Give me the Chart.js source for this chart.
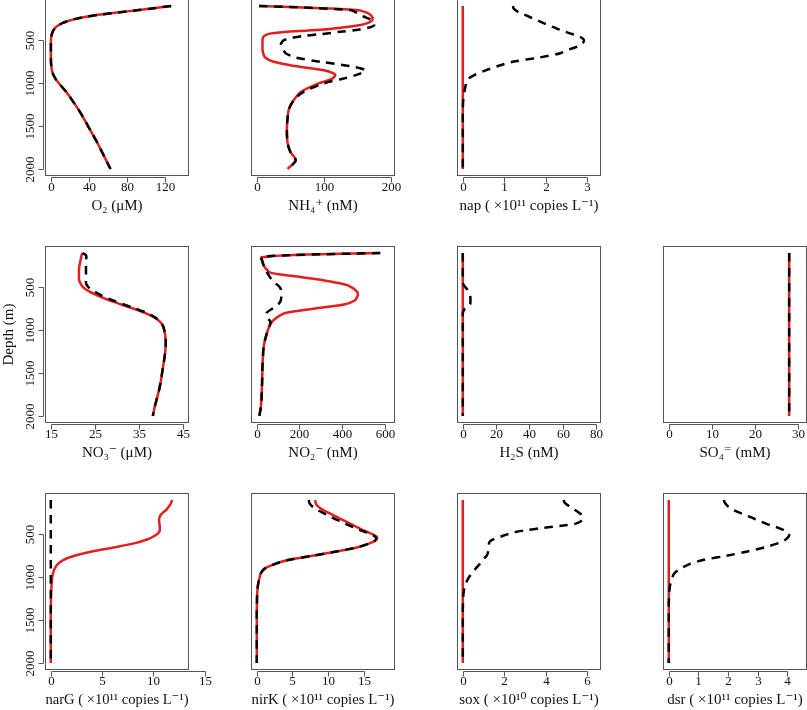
<!DOCTYPE html>
<html>
<head>
<meta charset="utf-8">
<script src="https://cdn.jsdelivr.net/npm/chart.js@4.4.1/dist/chart.umd.min.js"></script>
<style>
  html, body { margin: 0; padding: 0; background: #fff; overflow: hidden; }
  #wrap { position: relative; width: 807px; height: 710px; overflow: hidden; background: #fff; }
  #wrap canvas { position: absolute; }
</style>
</head>
<body>
<div id="wrap"></div>
<script>
// depth grid shared by every profile (m)
const depth = [100,125,150,175,200,225,250,275,300,325,350,375,400,425,450,475,500,525,550,575,600,
  650,700,750,800,850,900,950,1000,1100,1200,1300,1400,1500,1600,1700,1800,1900,2000];

const depthTicks = [500, 1000, 1500, 2000];

// profiles, one value per depth
const o2 = [126,108,90,70,52,37,26,18,12,8,5,3.2,2,1.2,0.7,0.4,0.2,0.1,0.1,0.1,0.1,
  0.1,0.1,0.2,0.5,1.2,2.6,5,8.5,16,22.5,28.5,34,39,44,49,53.5,58,62.5];

const nh4Solid = [3.5,96,152,163,169,172,173,171,165,153,128,100,45,18,11,9,8.5,8.5,8.5,8.5,8.5,
  9.5,12.5,25,57,100,117,112,93,66,55,48,46,45,45,46,50,58,46];
const nh4Dashed = [3.5,90,141,148,153,160,168,173,175,175,168,153,125,98,68,50,40,37,36,37,39,
  43,58,95,138,162,150,127,101,70,55,48,46,45,45,46,50,58,46];

const zeroProfile = [0,0,0,0,0,0,0,0,0,0,0,0,0,0,0,0,0,0,0,0,0,
  0,0,0,0,0,0,0,0,0,0,0,0,0,0,0,0,0,0];

const napDashed = [1.21,1.22,1.27,1.36,1.48,1.6,1.72,1.84,1.95,2.07,2.2,2.33,2.47,2.62,2.77,2.88,2.92,2.9,2.84,2.75,2.6,
  2.35,1.85,1.2,0.85,0.55,0.3,0.13,0.08,0.04,0.01,0,0,0,0,0,0,0,0];

const no3Solid = [22.2,22.0,21.9,21.8,21.7,21.6,21.5,21.45,21.4,21.4,21.4,21.4,21.4,21.5,21.7,22.0,22.4,23.0,23.8,24.8,25.8,
  28.2,31,33.9,36.5,38.5,39.8,40.5,40.8,41.1,41.1,40.9,40.6,40.3,40.0,39.6,39.1,38.6,38.2];
const no3Dashed = [22.2,23.0,23.1,23.0,23.0,23.0,23.0,23.0,23.0,23.0,23.0,23.0,23.0,23.0,23.0,23.2,23.6,24.3,25.0,25.8,26.7,
  29.0,31.6,34.4,36.9,38.7,39.8,40.5,40.8,41.1,41.1,40.9,40.6,40.3,40.0,39.6,39.1,38.6,38.2];

const no2Solid = [580,150,22,24,27,30,34,40,50,60,110,190,265,330,385,425,445,460,470,475,473,
  462,410,265,135,95,72,60,52,40,32,29,27,26,25,23.5,22,19,12];
const no2Dashed = [580,150,20,23,26,29,33,38,43,48,54,60,67,75,85,98,108,113,115,115,115,
  113,100,72,45,48,64,60,52,40,32,29,27,26,25,23.5,22,19,12];

const h2sDashed = [0,0,0,0,0,0,0,0,0,0,0,0,0,0,0,0.6,1.6,2.8,3.6,4.2,4.5,
  4.6,4.3,1.2,0,0,0,0,0,0,0,0,0,0,0,0,0,0,0];

const so4 = [28,28,28,28,28,28,28,28,28,28,28,28,28,28,28,28,28,28,28,28,28,
  28,28,28,28,28,28,28,28,28,28,28,28,28,28,28,28,28,28];

const narGSolid = [11.8,11.75,11.65,11.5,11.35,11.15,10.9,10.7,10.6,10.55,10.55,10.58,10.6,10.62,10.62,10.55,10.35,10.0,9.6,9.0,8.3,
  6.3,4.0,2.3,1.2,0.65,0.38,0.22,0.14,0.07,0.03,0.01,0,0,0,0,0,0,0];

const nirKSolid = [8.2,8.25,8.35,8.6,9.0,9.5,10.1,10.7,11.3,11.9,12.5,13.1,13.7,14.3,14.9,15.6,16.3,16.8,16.9,16.6,16.0,
  14.2,11.2,7.8,4.4,2.4,1.1,0.6,0.4,0.15,0.05,0.02,0,0,0,0,0,0,0];
const nirKDashed = [7.3,7.35,7.5,7.8,8.2,8.7,9.3,9.9,10.5,11.1,11.8,12.4,13.1,13.8,14.5,15.3,16.0,16.6,16.8,16.6,16.0,
  14.2,11.2,7.8,4.4,2.4,1.1,0.6,0.4,0.15,0.05,0.02,0,0,0,0,0,0,0];

const soxDashed = [4.87,4.9,5.0,5.15,5.3,5.47,5.62,5.75,5.8,5.78,5.68,5.45,4.75,3.9,3.1,2.5,2.15,1.85,1.55,1.35,1.27,
  1.25,1.23,1.15,0.95,0.8,0.62,0.45,0.3,0.1,0.03,0.01,0,0,0,0,0,0,0];

const dsrDashed = [1.86,1.88,1.93,2.0,2.1,2.23,2.4,2.58,2.76,2.93,3.1,3.28,3.48,3.7,3.88,4.0,4.06,4.05,3.98,3.88,3.72,
  3.25,2.65,1.95,1.15,0.68,0.4,0.2,0.12,0.04,0.01,0,0,0,0,0,0,0,0];

// x tick labels per panel
const o2Ticks = [0, 40, 80, 120];
const nh4Ticks = [0, 100, 200];
const napTicks = [0, 1, 2, 3];
const no3Ticks = [15, 25, 35, 45];
const no2Ticks = [0, 200, 400, 600];
const h2sTicks = [0, 20, 40, 60, 80];
const so4Ticks = [0, 10, 20, 30];
const narGTicks = [0, 5, 10, 15];
const nirKTicks = [0, 5, 10, 15];
const soxTicks = [0, 2, 4, 6];
const dsrTicks = [0, 1, 2, 3, 4];

const copies11 = " ( \u00d710\u00b9\u00b9 copies L\u207b\u00b9)";

const panels = [
  { title: "O\u2082 (\u03bcM)", solid: o2, dashed: o2, xlim: [0, 138.6], ticks: o2Ticks, row: 0, col: 0 },
  { title: "NH\u2084\u207a (nM)", solid: nh4Solid, dashed: nh4Dashed, xlim: [0, 197.6], ticks: nh4Ticks, row: 0, col: 1 },
  { title: "nap" + copies11, solid: zeroProfile, dashed: napDashed, xlim: [0, 3.19], ticks: napTicks, row: 0, col: 2 },
  { title: "NO\u2083\u207b (\u03bcM)", solid: no3Solid, dashed: no3Dashed, xlim: [15, 45.1], ticks: no3Ticks, row: 1, col: 0, depthTitle: true },
  { title: "NO\u2082\u207b (nM)", solid: no2Solid, dashed: no2Dashed, xlim: [0, 622], ticks: no2Ticks, row: 1, col: 1 },
  { title: "H\u2082S (nM)", solid: zeroProfile, dashed: h2sDashed, xlim: [0, 79.6], ticks: h2sTicks, row: 1, col: 2 },
  { title: "SO\u2084\u207c (mM)", solid: so4, dashed: so4, xlim: [0, 30.8], ticks: so4Ticks, row: 1, col: 3 },
  { title: "narG" + copies11, solid: narGSolid, dashed: zeroProfile, xlim: [0, 12.9], ticks: narGTicks, row: 2, col: 0 },
  { title: "nirK" + copies11, solid: nirKSolid, dashed: nirKDashed, xlim: [0, 18.6], ticks: nirKTicks, row: 2, col: 1 },
  { title: "sox ( \u00d710\u00b9\u2070 copies L\u207b\u00b9)", solid: zeroProfile, dashed: soxDashed, xlim: [0, 6.39], ticks: soxTicks, row: 2, col: 2 },
  { title: "dsr" + copies11, solid: zeroProfile, dashed: dsrDashed, xlim: [0, 4.47], ticks: dsrTicks, row: 2, col: 3 }
];

const serif = "'Liberation Serif', 'DejaVu Serif', serif";
const boxColor = "#555";
const textColor = "#111";
const red = "#e41e1e";
const BOX_W = 143, BOX_H = 176;

Chart.defaults.font.family = serif;

// R-like frame: box, axis line spanning the ticks, outward ticks, rotated depth labels
const rAxes = {
  id: "rAxes",
  afterDraw(chart, args, opts) {
    const { ctx, chartArea: a } = chart;
    const sx = chart.scales.x, sy = chart.scales.y;
    ctx.save();
    ctx.strokeStyle = boxColor;
    ctx.lineWidth = 1;
    ctx.strokeRect(a.left, a.top, a.right - a.left, a.bottom - a.top);

    ctx.fillStyle = textColor;
    ctx.font = "13px " + serif;

    const xs = opts.ticks.map(v => Math.round(sx.getPixelForValue(v)) + 0.5);
    const yb = a.bottom + 2;
    ctx.beginPath();
    ctx.moveTo(xs[0], yb);
    ctx.lineTo(xs[xs.length - 1], yb);
    xs.forEach(px => { ctx.moveTo(px, yb); ctx.lineTo(px, yb + 5); });
    ctx.stroke();
    ctx.textAlign = "center";
    ctx.textBaseline = "top";
    opts.ticks.forEach((v, i) => ctx.fillText(String(v), xs[i], yb + 4));

    if (opts.yTicks) {
      const ys = opts.yTicks.map(v => Math.round(sy.getPixelForValue(v)) + 0.5);
      const xl = a.left - 2;
      ctx.beginPath();
      ctx.moveTo(xl, ys[0]);
      ctx.lineTo(xl, ys[ys.length - 1]);
      ys.forEach(py => { ctx.moveTo(xl, py); ctx.lineTo(xl - 5, py); });
      ctx.stroke();
      ctx.textBaseline = "middle";
      opts.yTicks.forEach((v, i) => {
        ctx.save();
        ctx.translate(a.left - 15, ys[i]);
        ctx.rotate(-Math.PI / 2);
        ctx.fillText(String(v), 0, 0);
        ctx.restore();
      });
    }
    ctx.restore();
  }
};

const wrap = document.getElementById("wrap");

panels.forEach(function (p) {
  const boxLeft = 45.5 + p.col * 206;
  const boxTop = -0.5 + p.row * 247;
  const cLeft = p.col * 206;
  const cTop = Math.floor(boxTop) - 10;
  const W = p.col === 3 ? 807 - cLeft : 236;
  const H = 233;
  const padL = boxLeft - cLeft;
  const padT = boxTop - cTop;
  const padR = W - padL - BOX_W;
  const padB = H - padT - BOX_H;

  const canvas = document.createElement("canvas");
  canvas.width = W;
  canvas.height = H;
  canvas.style.left = cLeft + "px";
  canvas.style.top = cTop + "px";
  canvas.style.width = W + "px";
  canvas.style.height = H + "px";
  wrap.appendChild(canvas);

  // R pads the axis limits by 4% on each side
  const span = p.xlim[1] - p.xlim[0];
  const xMin = p.xlim[0] - 0.04 * span;
  const xMax = p.xlim[1] + 0.04 * span;

  new Chart(canvas, {
    type: "line",
    data: {
      datasets: [
        {
          data: depth.map((d, i) => ({ x: p.dashed[i], y: d })),
          borderColor: "#000",
          borderWidth: 2.5,
          borderDash: [8.5, 6.5],
          pointRadius: 0,
          tension: 0.3,
          order: 0
        },
        {
          data: depth.map((d, i) => ({ x: p.solid[i], y: d })),
          borderColor: red,
          borderWidth: 2.5,
          pointRadius: 0,
          tension: 0.3,
          order: 1
        }
      ]
    },
    options: {
      responsive: false,
      animation: false,
      devicePixelRatio: 1,
      indexAxis: "y",
      layout: { padding: { top: padT, right: padR, left: 0, bottom: 0 } },
      plugins: {
        legend: { display: false },
        tooltip: { enabled: false },
        rAxes: { ticks: p.ticks, yTicks: p.col === 0 ? depthTicks : null }
      },
      scales: {
        x: {
          type: "linear",
          position: "bottom",
          min: xMin,
          max: xMax,
          ticks: { display: false },
          grid: { display: false },
          border: { display: false },
          title: {
            display: true,
            text: p.title,
            color: textColor,
            font: { size: 15 },
            padding: { top: 0, bottom: 7 }
          },
          afterFit: function (s) { s.height = padB; }
        },
        y: {
          type: "linear",
          position: "left",
          reverse: true,
          min: 24,
          max: 2076,
          ticks: { display: false },
          grid: { display: false },
          border: { display: false },
          title: {
            display: !!p.depthTitle,
            text: "Depth (m)",
            color: textColor,
            font: { size: 15 },
            padding: { top: 0, bottom: 0 }
          },
          afterFit: function (s) { s.width = padL; }
        }
      }
    },
    plugins: [rAxes]
  });
});
</script>
</body>
</html>
